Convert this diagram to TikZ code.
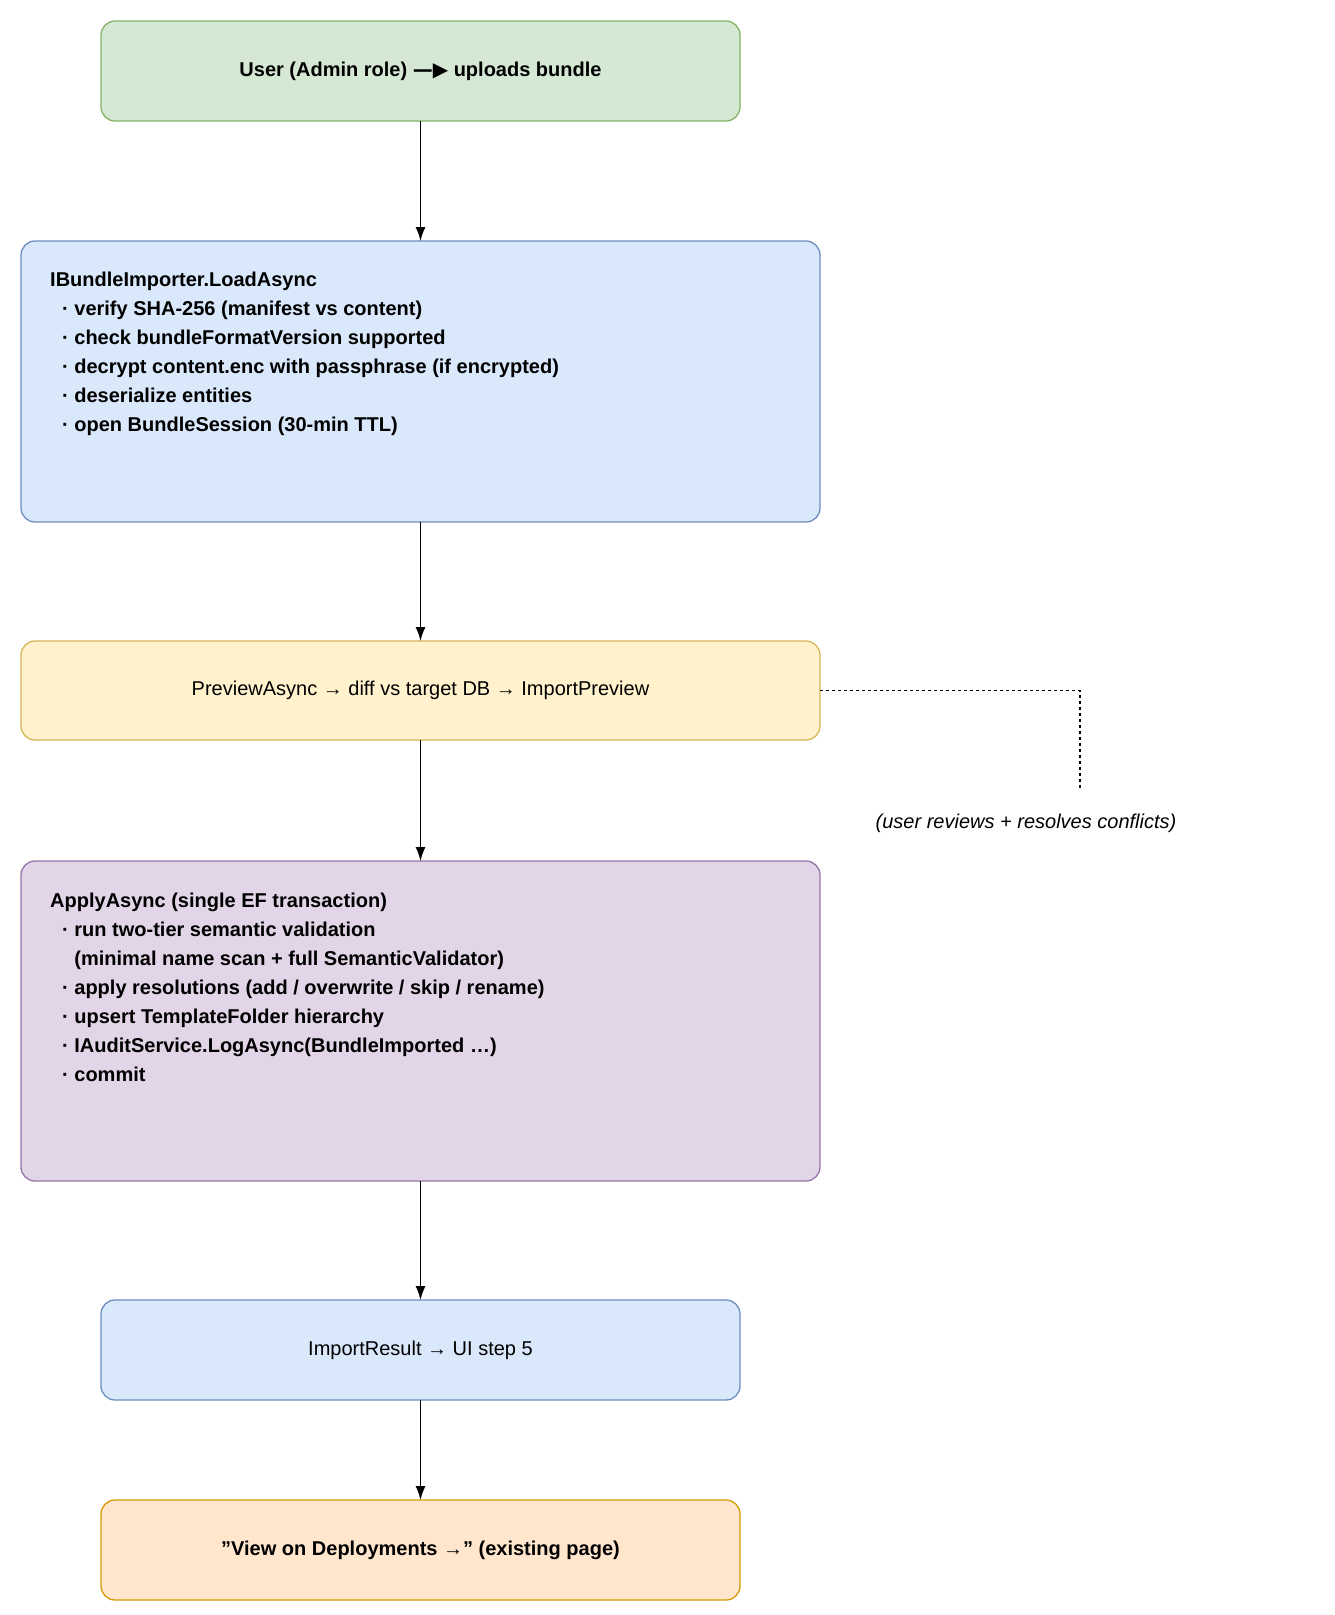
\documentclass[tikz,border=0pt]{standalone}
\usepackage{fontspec}
\setmainfont{Liberation Sans}
\newfontfamily\dejavu{DejaVu Sans}
\usetikzlibrary{positioning,arrows.meta}
\definecolor{greenfill}{HTML}{D5E8D4}\definecolor{greendraw}{HTML}{82B366}
\definecolor{bluefill}{HTML}{DAE8FC}\definecolor{bluedraw}{HTML}{6C8EBF}
\definecolor{yellowfill}{HTML}{FFF2CC}\definecolor{yellowdraw}{HTML}{D6B656}
\definecolor{purplefill}{HTML}{E1D5E7}\definecolor{purpledraw}{HTML}{9673A6}
\definecolor{orangefill}{HTML}{FFE6CC}\definecolor{orangedraw}{HTML}{D79B00}
\newcommand{\itm}{\hspace*{12pt}·\ }
\tikzset{
  stage/.style={rounded corners=14pt, line width=1.3pt},
  flow/.style={-{Latex[length=14pt,width=10pt]}, line width=1.3pt}
}
\begin{document}
\begin{tikzpicture}[x=1pt,y=1pt,yscale=-1]
		\useasboundingbox (0,0) rectangle (1334,1615);

		% boxes
		\draw[stage, fill=greenfill, draw=greendraw] (101,21) rectangle (740,121);
		\node[font=\fontsize{20}{29}\selectfont\bfseries] (user) at (420.5,71) {User (Admin role) {\dejavu —▶} uploads bundle};
		\draw[stage, fill=bluefill, draw=bluedraw] (21,241) rectangle (820,522);
		\node[anchor=north west, align=left, inner sep=0pt, font=\fontsize{20}{29}\selectfont\bfseries] (load) at (50,272) {IBundleImporter.LoadAsync\\
			\itm verify SHA-256 (manifest vs content)\\
			\itm check bundleFormatVersion supported\\
			\itm decrypt content.enc with passphrase (if encrypted)\\
			\itm deserialize entities\\
			\itm open BundleSession (30-min TTL)};
		\draw[stage, fill=yellowfill, draw=yellowdraw] (21,641) rectangle (820,740);
		\node[font=\fontsize{20}{29}\selectfont] (preview) at (420.5,690.5) {PreviewAsync → diff vs target DB → ImportPreview};
		\draw[stage, fill=purplefill, draw=purpledraw] (21,861) rectangle (820,1181);
		\node[anchor=north west, align=left, inner sep=0pt, font=\fontsize{20}{29}\selectfont\bfseries] (apply) at (50,893) {ApplyAsync (single EF transaction)\\
			\itm run two-tier semantic validation\\
			\hspace*{12pt}\phantom{·\ }(minimal name scan + full SemanticValidator)\\
			\itm apply resolutions (add / overwrite / skip / rename)\\
			\itm upsert TemplateFolder hierarchy\\
			\itm IAuditService.LogAsync(BundleImported …)\\
			\itm commit};
		\draw[stage, fill=bluefill, draw=bluedraw] (101,1300) rectangle (740,1400);
		\node[font=\fontsize{20}{29}\selectfont] (result) at (420.5,1350) {ImportResult → UI step 5};
		\draw[stage, fill=orangefill, draw=orangedraw] (101,1500) rectangle (740,1600);
		\node[font=\fontsize{20}{29}\selectfont\bfseries] (deploy) at (420.5,1550) {"View on Deployments →" (existing page)};

		% connectors
		\coordinate (a1) at (420.5,121); \coordinate (b1) at (420.5,241);
		\coordinate (a2) at (420.5,522); \coordinate (b2) at (420.5,641);
		\coordinate (a3) at (420.5,740); \coordinate (b3) at (420.5,861);
		\coordinate (a4) at (420.5,1181); \coordinate (b4) at (420.5,1300);
		\coordinate (a5) at (420.5,1400); \coordinate (b5) at (420.5,1500);
		\foreach \i in {1,...,5} \draw[flow] (a\i) -- (b\i);

		% review note
		\coordinate (pr) at (820,690.5);
		\coordinate (rv) at (1080,788);
		\draw[dashed, line width=1.3pt] (pr) -| (rv);
		\node[font=\fontsize{20}{29}\selectfont\itshape] (review) at (1026,823) {(user reviews + resolves conflicts)};
	\end{tikzpicture}
\end{document}
